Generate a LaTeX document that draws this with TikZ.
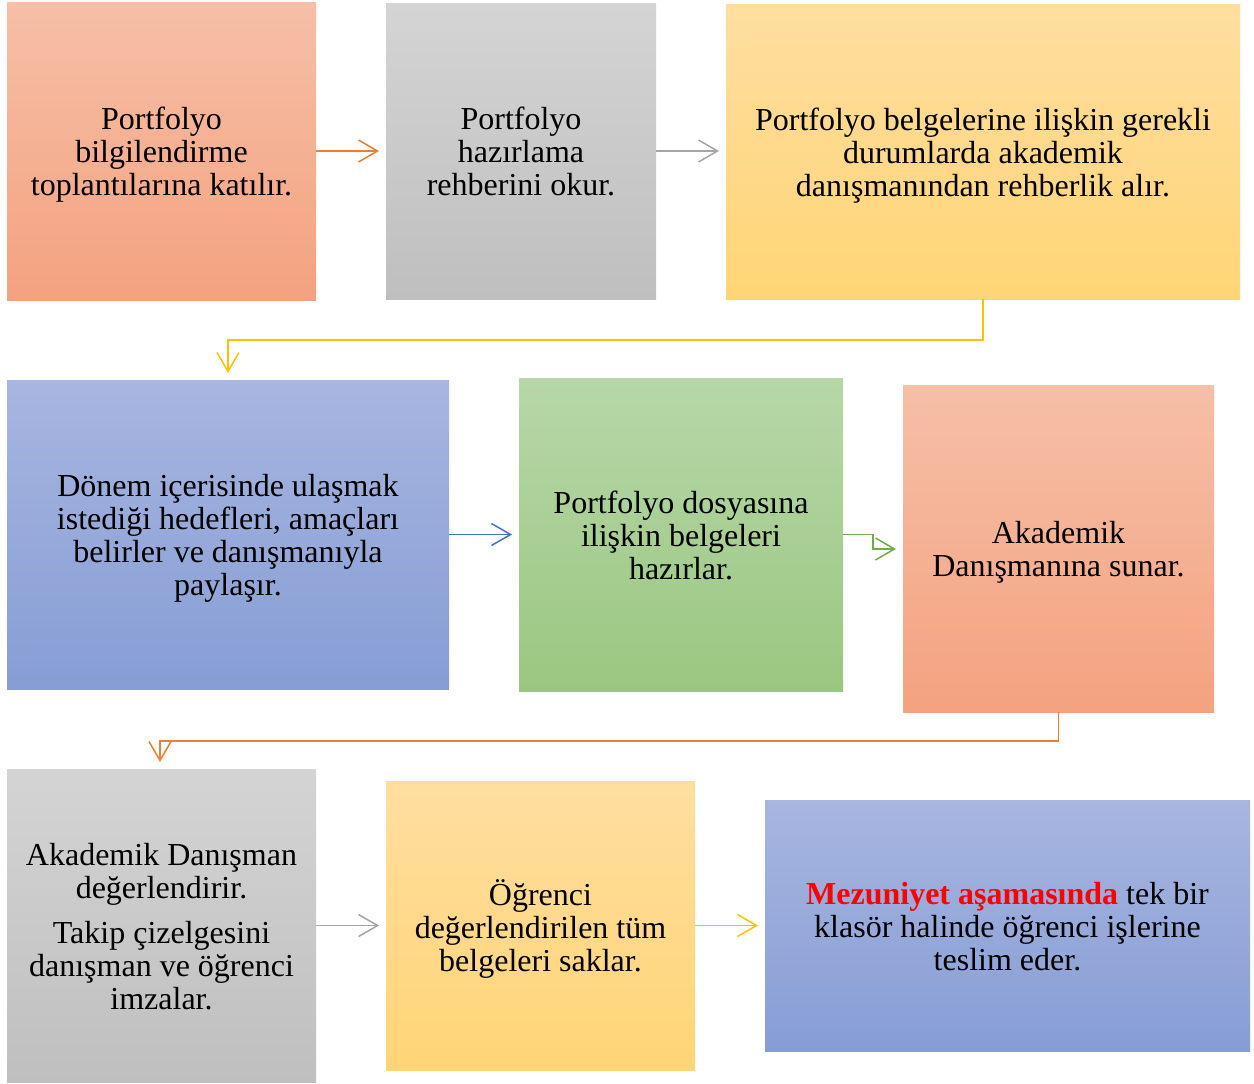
\documentclass[tikz,border=0pt]{standalone}
\usepackage{fontspec}
\setmainfont{Liberation Serif}
\usetikzlibrary{arrows.meta}
\definecolor{orT}{RGB}{246,191,167}
\definecolor{orB}{RGB}{244,162,128}
\definecolor{grT}{RGB}{212,212,212}
\definecolor{grB}{RGB}{191,191,191}
\definecolor{yeT}{RGB}{255,222,160}
\definecolor{yeB}{RGB}{255,213,118}
\definecolor{blT}{RGB}{168,182,224}
\definecolor{blB}{RGB}{134,157,213}
\definecolor{gnT}{RGB}{183,215,168}
\definecolor{gnB}{RGB}{155,199,129}
\definecolor{cOr}{RGB}{237,125,49}
\definecolor{cGr}{RGB}{165,165,165}
\definecolor{cYe}{RGB}{255,192,0}
\definecolor{cBl}{RGB}{68,114,196}
\definecolor{cGn}{RGB}{112,173,71}
\definecolor{redtxt}{RGB}{255,0,0}
\tikzset{
  box/.style={rectangle, inner sep=0pt},
  orbox/.style={box, top color=orT, bottom color=orB},
  grbox/.style={box, top color=grT, bottom color=grB},
  yebox/.style={box, top color=yeT, bottom color=yeB},
  blbox/.style={box, top color=blT, bottom color=blB},
  gnbox/.style={box, top color=gnT, bottom color=gnB},
  conn/.style={line width=1.5pt, -{Straight Barb[length=19pt,width=22pt]}},
  lbl/.style={inner sep=0pt, align=center, font=\fontsize{32}{33}\selectfont, yshift=-5pt},
}
\begin{document}
\begin{tikzpicture}[x=1pt,y=-1pt]
\useasboundingbox (0,0) rectangle (1254,1084);
% row 1
\node[orbox, minimum width=309pt, minimum height=298pt] (n1) at (161.5,151) {};
\node[grbox, minimum width=270pt, minimum height=296pt] (n2) at (521,151) {};
\node[yebox, minimum width=514pt, minimum height=295pt] (n3) at (983,151.5) {};
% row 2
\node[blbox, minimum width=442pt, minimum height=309pt] (n4) at (228,534.5) {};
\node[gnbox, minimum width=324pt, minimum height=313pt] (n5) at (681,534.5) {};
\node[orbox, minimum width=311pt, minimum height=327pt] (n6) at (1058.5,548.5) {};
% row 3
\node[grbox, minimum width=309pt, minimum height=313pt] (n7) at (161.5,925.5) {};
\node[yebox, minimum width=309pt, minimum height=289pt] (n8) at (540.5,925.5) {};
\node[blbox, minimum width=485pt, minimum height=251pt] (n9) at (1007.5,925.5) {};
% texts
\node[lbl] (l1) at (n1.center) {\strut Portfolyo\\bilgilendirme\\toplantılarına katılır.\strut};
\node[lbl] (l2) at (n2.center) {\strut Portfolyo\\hazırlama\\rehberini okur.\strut};
\node[lbl] (l3) at (n3.center) {\strut Portfolyo belgelerine ilişkin gerekli\\durumlarda akademik\\danışmanından rehberlik alır.\strut};
\node[lbl] (l4) at (n4.center) {\strut Dönem içerisinde ulaşmak\\istediği hedefleri, amaçları\\belirler ve danışmanıyla\\paylaşır.\strut};
\node[lbl] (l5) at (n5.center) {\strut Portfolyo dosyasına\\ilişkin belgeleri\\hazırlar.\strut};
\node[lbl] (l6) at (n6.center) {\strut Akademik\\Danışmanına sunar.\strut};
\node[lbl] (l7) at (n7.center) {\strut Akademik Danışman\\değerlendirir.\\[12pt]Takip çizelgesini\\danışman ve öğrenci\\imzalar.\strut};
\node[lbl] (l8) at (n8.center) {\strut Öğrenci\\değerlendirilen tüm\\belgeleri saklar.\strut};
\node[lbl] (l9) at (n9.center) {\strut\textcolor{redtxt}{\bfseries Mezuniyet aşamasında} tek bir\\klasör halinde öğrenci işlerine\\teslim eder.\strut};
% connector ends
\coordinate (t2) at (379,151);
\coordinate (t3) at (719,151);
\coordinate (t4) at (228,373);
\coordinate (t5) at (512,534.5);
\coordinate (t6) at (896,549);
\coordinate (t7) at (160,762);
\coordinate (t8) at (379,925.5);
\coordinate (t9) at (758,925.5);
% connectors
\draw[conn, cOr] (n1.east) -- (t2);
\draw[conn, cGr] (n2.east) -- (t3);
\draw[conn, cYe] (n3.south) -- ++(0,41) -| (t4);
\draw[conn, cBl] (n4.east) -- (t5);
\draw[conn, cGn] (n5.east) -- ++(30,0) |- (t6);
\draw[conn, cOr] (n6.south) -- ++(0,29) -| (t7);
\draw[conn, cGr] (n7.east) -- (t8);
\draw[conn, cYe] (n8.east) -- (t9);
\end{tikzpicture}
\end{document}
